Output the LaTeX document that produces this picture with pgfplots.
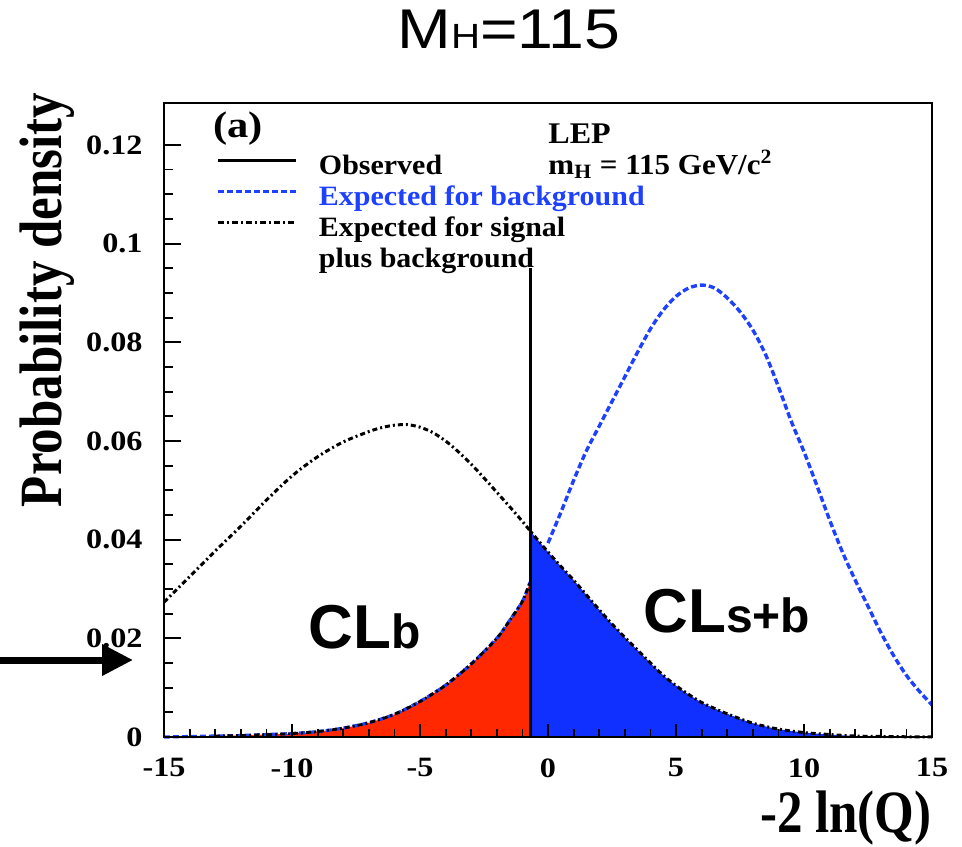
\documentclass[border=0pt]{standalone}
\usepackage{pgfplots}
\pgfplotsset{compat=1.18}
\usepackage{pgfplotstable}
\usepackage{fontspec}
\setmainfont{Liberation Serif}
\newfontfamily\rootfont{Liberation Serif}[FakeStretch=1.15]
\newfontfamily\legfont{Liberation Serif}[FakeStretch=1.07]
\newfontfamily\rootcond{Liberation Serif}[FakeStretch=0.85]
\newfontfamily\arialfont{Liberation Sans}[FakeStretch=1.15]
\newfontfamily\arialbold{Liberation Sans}
\usetikzlibrary{arrows.meta}
\definecolor{bluefill}{RGB}{16,48,255}
\definecolor{blueline}{RGB}{30,64,255}
\definecolor{redfill}{RGB}{255,40,0}

% expected for background
\pgfplotstableread{
x y
-15 0.0000
-13 0.0002
-12 0.0003
-11 0.0005
-10 0.0007
-9 0.0011
-8 0.0018
-7 0.0029
-6 0.0046
-5 0.0072
-4 0.0105
-3 0.0148
-2 0.0200
-1.5 0.0236
-1 0.0275
-0.7 0.0314
0 0.0393
0.5 0.0455
1 0.0520
1.5 0.0580
2 0.0630
2.5 0.0680
3 0.0730
3.5 0.0780
4 0.0827
4.5 0.0865
5 0.0893
5.5 0.0910
6 0.0916
6.5 0.0910
7 0.0890
7.5 0.0862
8 0.0825
8.5 0.0775
9 0.0710
9.5 0.0640
10 0.0578
10.5 0.0510
11 0.0440
11.5 0.0375
12 0.0318
12.5 0.0265
13 0.0212
13.5 0.0165
14 0.0125
14.5 0.0093
15 0.0065
}\bkg

% expected for signal plus background
\pgfplotstableread{
x y
-15 0.0273
-14 0.0325
-13 0.0377
-12 0.0427
-11 0.0480
-10 0.0529
-9 0.0568
-8 0.0598
-7 0.0619
-6.5 0.0627
-6 0.0632
-5.5 0.0633
-5 0.0628
-4.5 0.0617
-4 0.0600
-3.5 0.0578
-3 0.0553
-2.5 0.0525
-2 0.0496
-1.5 0.0467
-1 0.0437
-0.7 0.0418
0 0.0375
0.5 0.0346
1 0.0318
1.5 0.0288
2 0.0258
2.5 0.0229
3 0.0202
3.5 0.0176
4 0.0150
4.5 0.0125
5 0.0104
5.5 0.0086
6 0.0070
6.5 0.0058
7 0.0047
8 0.0028
9 0.0016
10 0.0009
11 0.0005
12 0.0002
13 0.0001
15 0.0000
}\spb

\begin{document}
\begin{tikzpicture}
\useasboundingbox (-82pt,-54.5pt) rectangle (399pt,368.5pt);
\begin{axis}[
  at={(0pt,0pt)}, anchor=south west,
  scale only axis, width=384pt, height=317pt,
  xmin=-15, xmax=15, ymin=0, ymax=0.1285,
  clip=false, axis on top,
  axis line style={line width=1.3pt},
  tick align=inside, xtick pos=bottom, ytick pos=left,
  xtick={-15,-10,-5,0,5,10,15}, xticklabels={-15,-10,-5,0,5,10,15},
  ytick={0,0.02,0.04,0.06,0.08,0.1,0.12}, yticklabels={0,0.02,0.04,0.06,0.08,0.1,0.12},
  minor x tick num=4, minor y tick num=3,
  x tick style={line width=0.9pt, black, /pgfplots/major tick length=6.5pt, /pgfplots/minor tick length=4pt},
  y tick style={line width=0.9pt, black, /pgfplots/major tick length=8.5pt, /pgfplots/minor tick length=4.5pt},
  ticklabel style={font=\rootfont\bfseries\fontsize{14}{16}\selectfont, inner sep=0pt},
  xticklabel style={yshift=-10.5pt},
  yticklabel style={xshift=-10.5pt},
  legend style={at={(axis cs:-12.93,0.1183)}, anchor=north west, draw=none, fill=none,
    inner sep=0pt, outer sep=0pt, font=\legfont\bfseries\fontsize{14}{16}\selectfont,
    row sep=1.5pt, column sep=10.5pt,
    nodes={inner sep=0pt, text height=10.5pt, text depth=3.5pt}},
  legend cell align=left,
  legend image code/.code={\draw[#1] (0pt,3.5pt) -- (39pt,3.5pt);},
]
\addlegendimage{black, solid, line width=1.5pt}
\addlegendentry{Observed}
\addlegendimage{blueline, dash pattern=on 3pt off 1.5pt, line width=1.5pt}
\addlegendentry{\textcolor{blueline}{Expected for background}}
\addlegendimage{black, dash pattern=on 3pt off 1.5pt on 1pt off 1.5pt, line width=1.5pt}
\addlegendentry{Expected for signal}
\addlegendimage{empty legend}
\addlegendentry{plus background}

\addplot[forget plot, draw=none, fill=redfill, smooth, restrict x to domain=-15:-0.7] table {\bkg} \closedcycle;
\addplot[forget plot, draw=none, fill=bluefill, smooth, restrict x to domain=-0.7:15] table {\spb} \closedcycle;
\addplot[forget plot, blueline, dash pattern=on 3pt off 1.5pt, line width=1.6pt, smooth, restrict x to domain=-15:-0.7] table {\bkg};
\addplot[forget plot, blueline, dash pattern=on 3pt off 1.5pt, line width=1.7pt, smooth, restrict x to domain=0:15] table {\bkg};
\addplot[forget plot, black, dash pattern=on 2.5pt off 1.5pt on 1pt off 1.5pt, line width=1.4pt, smooth, restrict x to domain=-13:-0.7] table {\bkg};
\addplot[forget plot, black, dash pattern=on 2.5pt off 1.5pt on 1pt off 1.5pt, line width=1.5pt, smooth] table {\spb};
\addplot[forget plot, black, line width=1.5pt] coordinates {(-0.7,0) (-0.7,0.095)};

\node[anchor=base west, inner sep=0pt, font=\rootfont\bfseries\fontsize{18.5}{20}\selectfont] at (axis cs:-13.1,0.1216) {(a)};
\node[anchor=base west, inner sep=0pt, font=\legfont\bfseries\fontsize{15}{17}\selectfont] at (axis cs:0.0,0.1202) {LEP};
\node[anchor=base west, inner sep=0pt, font=\legfont\bfseries\fontsize{14.5}{17}\selectfont] at (axis cs:0.0,0.1141) {m\textsubscript{H} = 115 GeV/c\textsuperscript{2}};

\node[anchor=base west, inner sep=0pt] at (axis cs:-9.375,0.018) {\arialbold\bfseries\fontsize{31}{35}\selectfont CL\fontsize{24}{28}\selectfont b};
\node[anchor=base west, inner sep=0pt] at (axis cs:3.71,0.0211) {\arialbold\bfseries\fontsize{31}{35}\selectfont CL\fontsize{24}{28}\selectfont s+b};

\node[anchor=base, inner sep=0pt] at (axis cs:-1.52,0.1396) {\arialfont\fontsize{28}{32}\selectfont M\fontsize{17.5}{20}\selectfont H\fontsize{28}{32}\selectfont =115};
\end{axis}
\node[rotate=90, anchor=base, inner sep=0pt, font=\rootcond\bfseries\fontsize{30}{34}\selectfont] at (-51pt,218.5pt) {Probability density};
\node[anchor=base east, inner sep=0pt, font=\rootcond\bfseries\fontsize{30}{34}\selectfont] at (384pt,-47.5pt) {-2 ln(Q)};
\draw[line width=3.5pt, -{Triangle[length=15.5pt, width=15pt]}] (-82pt,38.5pt) -- (-15.5pt,38.5pt);
\end{tikzpicture}
\end{document}
